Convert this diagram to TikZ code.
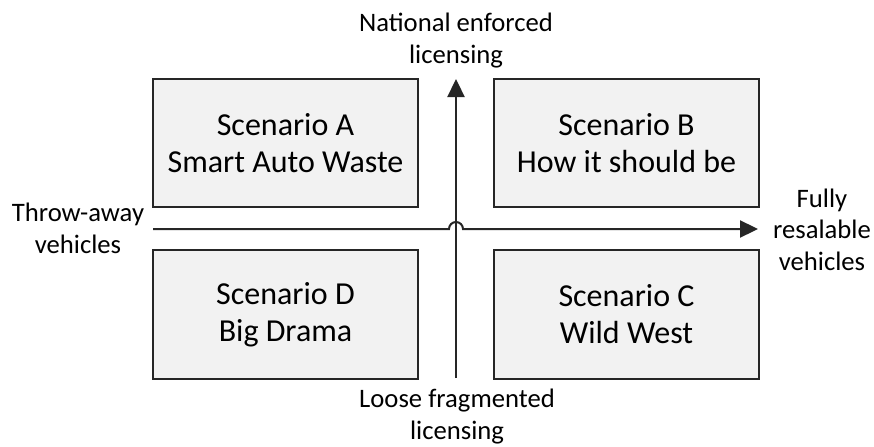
\documentclass[tikz,border=0pt]{standalone}
\usepackage{fontspec}
\setmainfont{Carlito}
\usetikzlibrary{arrows.meta,calc}
\definecolor{boxfill}{HTML}{F2F2F2}
\definecolor{edge}{HTML}{262626}
\begin{document}
\begin{tikzpicture}[x=0.75pt,y=-0.75pt,
  scen/.style={draw=edge,fill=boxfill,line width=1.5pt,minimum width=265*0.75pt,minimum height=128*0.75pt,
    align=center,inner sep=0pt,font=\fontsize{24}{27.75}\selectfont,text=black},
  axlab/.style={align=center,inner sep=0pt,font=\fontsize{20}{23.5}\selectfont,text=black},
  axis/.style={draw=edge,line width=1.5pt,-{Triangle[length=13.5pt,width=12.8pt]}}]
\useasboundingbox (0,0) rectangle (874,446);
\node[scen] (A) at (285.5,143) {Scenario A\\Smart Auto Waste};
\node[scen] (B) at (626.5,143) {Scenario B\\How it should be};
\node[scen,minimum height=129*0.75pt] (D) at (285.5,314.5) {Scenario D\\Big Drama};
\node[scen,minimum height=129*0.75pt] (C) at (626.5,314.5) {Scenario C\\Wild West};
\coordinate (vb) at (456,378);
\coordinate (vt) at (456,79);
\coordinate (hl) at (153,229);
\coordinate (hr) at (758,229);
\coordinate (ctr) at (456,229);
\draw[axis] (vb) -- (vt);
\draw[axis] (hl) -- ($(ctr)+(-7,0)$) arc[start angle=180,end angle=0,radius=7*0.75pt] -- (hr);
\node[axlab,anchor=base] (N) at (456,63) {National enforced\\licensing};
\node[axlab,anchor=base] (L) at (457,439) {Loose fragmented\\licensing};
\node[axlab,anchor=base] (T) at (78,253) {Throw-away\\vehicles};
\node[axlab,anchor=base] (F) at (822,270) {Fully\\resalable\\vehicles};
\end{tikzpicture}
\end{document}
